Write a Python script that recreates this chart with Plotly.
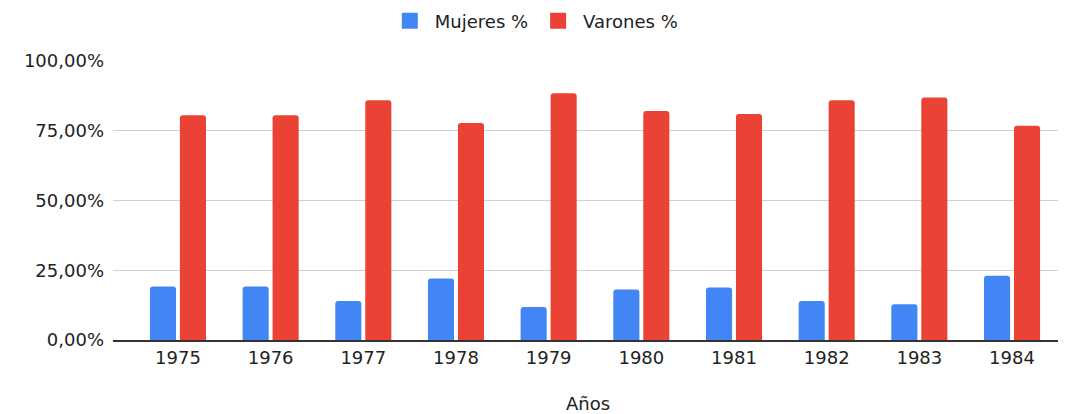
import plotly.graph_objects as go

years = ["1975", "1976", "1977", "1978", "1979", "1980", "1981", "1982", "1983", "1984"]
mujeres = [0.192, 0.192, 0.140, 0.220, 0.118, 0.181, 0.188, 0.140, 0.128, 0.230]
varones = [0.806, 0.806, 0.859, 0.778, 0.884, 0.821, 0.810, 0.859, 0.869, 0.768]
y_ticks = [0, 0.25, 0.5, 0.75, 1.0]

# page has an 8px body margin; figure sized to fit inside 1066x414 window
W, H = 1058, 406
left, right = 105, 1055
top, bottom = 53, 331.7

FONT = "DejaVu Sans"
TXT = "#222222"
BLUE, RED = "#4285F4", "#EA4335"

fig = go.Figure()
fig.add_trace(go.Bar(x=list(range(len(years))), y=mujeres, name="Mujeres %",
                     marker=dict(color=BLUE, line=dict(width=0)), showlegend=False))
fig.add_trace(go.Bar(x=list(range(len(years))), y=varones, name="Varones %",
                     marker=dict(color=RED, line=dict(width=0)), showlegend=False))
# legend entries with larger square swatches
for nm, col in (("Mujeres %", BLUE), ("Varones %", RED)):
    fig.add_trace(go.Scatter(x=[None], y=[None], mode="markers", name=nm,
                             marker=dict(symbol="square", size=19, color=col)))

fig.update_layout(
    width=W, height=H,
    margin=dict(l=left, r=W - right, t=top, b=H - bottom, pad=0, autoexpand=False),
    paper_bgcolor="white", plot_bgcolor="white",
    separators=",.",
    barmode="group", bargap=0.353, bargroupgap=0.13, barcornerradius=3,
    font=dict(family=FONT, size=18, color=TXT),
    legend=dict(orientation="h", xref="container", yref="container",
                x=0.497, y=1 - 13 / H, xanchor="center", yanchor="middle",
                font=dict(size=18, color=TXT), itemwidth=40,
                traceorder="normal"),
    xaxis=dict(tickmode="array", tickvals=list(range(len(years))), ticktext=years,
               range=[-0.701, 9.55], showgrid=False, zeroline=False,
               showline=True, linecolor="#333333", linewidth=1.5,
               ticks="", ticklabelstandoff=1, automargin=False,
               tickfont=dict(size=18, color=TXT),
               title=dict(text="Años", font=dict(size=18, color=TXT), standoff=34)),
    yaxis=dict(range=[0, 1.0], tickvals=y_ticks, tickformat=".2%",
               showgrid=True, gridcolor="#d0d0d0", gridwidth=1.2,
               zeroline=False, ticks="", ticklabelstandoff=8, automargin=False,
               tickfont=dict(size=18, color=TXT)),
)

fig.write_html("out.html")
